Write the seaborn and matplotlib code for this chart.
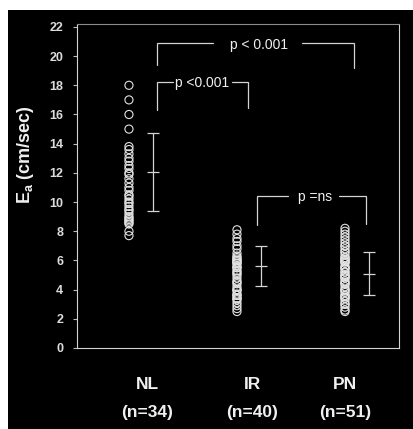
import matplotlib
matplotlib.use("Agg")
import matplotlib.pyplot as plt
from matplotlib.patches import Rectangle
import numpy as np
import pandas as pd
import seaborn as sns

# Groups and sample sizes
categories = ["NL", "IR", "PN"]
n_labels = ["(n=34)", "(n=40)", "(n=51)"]

# Individual Ea measurements (cm/sec)
nl_values = [18.0, 17.0, 16.0, 15.0, 13.8, 13.6, 13.3, 13.0, 12.8, 12.5,
             12.3, 12.0, 11.9, 11.6, 11.3, 11.0, 10.8, 10.5, 10.4, 10.2,
             10.0, 9.9, 9.7, 9.5, 9.4, 9.2, 9.0, 8.9, 8.8, 8.7,
             8.6, 8.5, 8.0, 7.7]
ir_values = [8.1, 7.8, 7.5, 7.3, 7.0, 6.8, 6.5, 6.3, 6.1, 6.0,
             5.9, 5.8, 5.6, 5.5, 5.3, 5.1, 5.0, 4.8, 4.6, 4.4,
             4.2, 4.0, 3.9, 3.7, 3.6, 3.4, 3.3, 3.1, 2.9, 2.7,
             2.5, 6.0, 5.8, 5.5, 4.0, 3.6, 3.4, 6.2, 5.2, 4.5]
pn_values = [8.2, 8.0, 7.8, 7.6, 7.4, 7.2, 7.0, 6.8, 6.6, 6.4,
             6.2, 6.1, 6.0, 5.9, 5.8, 5.6, 5.5, 5.4, 5.2, 5.0,
             4.9, 4.8, 4.6, 4.5, 4.4, 4.2, 4.0, 3.9, 3.8, 3.6,
             3.5, 3.4, 3.2, 3.0, 2.8, 2.6, 2.5, 6.0, 6.2, 5.9,
             5.5, 5.0, 4.8, 4.4, 4.0, 3.6, 3.4, 3.0, 7.0, 6.6, 5.2]

# Group mean and standard deviation
means = [12.05, 5.62, 5.08]
sds = [2.66, 1.38, 1.47]

y_ticks = list(range(0, 23, 2))

# Comparisons: (left x, right x, top y, left foot, right foot, text, text x, gap left, gap right)
brackets = [
    (0.259, 2.083, 20.89, 19.38, 19.18, "p < 0.001", 1.208, 0.778, 1.602),
    (0.259, 1.102, 18.24, 16.30, 16.44, "p <0.001", 0.680, 0.407, 0.954),
    (1.185, 2.194, 10.43, 8.42, 8.49, "p =ns", 1.727, 1.472, 1.944),
]

sns.set_theme(style="dark")
plt.rcParams["font.family"] = ["Liberation Sans", "DejaVu Sans"]
plt.rcParams["mathtext.fontset"] = "custom"
plt.rcParams["mathtext.bf"] = "Liberation Sans:bold"
plt.rcParams["mathtext.rm"] = "Liberation Sans"

LINE = "#d4d4d4"
TEXT = "#f0f0f0"

fig = plt.figure(figsize=(4.13, 4.29), dpi=100)
fig.patch.set_facecolor("white")
fig.add_artist(Rectangle((8 / 413, 0), 1, 1 - 10 / 429, transform=fig.transFigure,
                         facecolor="black", edgecolor="none", zorder=-10))

ax = fig.add_axes([77 / 413, 81 / 429, 322 / 413, 324 / 429])
ax.set_facecolor("black")

positions = np.arange(len(categories), dtype=float)
err_offset = 0.22

df = pd.DataFrame({
    "group": np.repeat(categories, [len(nl_values), len(ir_values), len(pn_values)]),
    "ea": nl_values + ir_values + pn_values,
})
df["x"] = df["group"].map(dict(zip(categories, positions)))

sns.scatterplot(data=df, x="x", y="ea", ax=ax, marker="o", s=34,
                facecolors="none", edgecolor="#e2e2e2", linewidth=0.8,
                legend=False, zorder=3)

ax.errorbar(positions + err_offset, means, yerr=sds, fmt="_", color=LINE,
            ecolor=LINE, elinewidth=0.9, capsize=4.6, capthick=0.9,
            markersize=9.2, markeredgewidth=0.9, zorder=3)

for x0, x1, ytop, yl, yr, label, tx, g0, g1 in brackets:
    ax.plot([x0, x0, g0], [yl, ytop, ytop], color=LINE, lw=0.9, solid_joinstyle="miter")
    ax.plot([g1, x1, x1], [ytop, ytop, yr], color=LINE, lw=0.9, solid_joinstyle="miter")
    ax.text(tx, ytop, label, ha="center", va="center_baseline", fontsize=10,
            color=TEXT)

ax.set_xlim(-0.481, 2.5)
ax.set_ylim(0, 22.2)
ax.set_yticks(y_ticks)
ax.set_yticklabels([str(t) for t in y_ticks], fontweight="bold")
ax.set_xticks([])
ax.set_xlabel("")
ax.set_ylabel("")
ax.grid(False)
ax.tick_params(axis="y", left=True, direction="out", length=3, width=0.8,
               color="#bbbbbb", pad=7, labelsize=9, labelcolor="#dcdcdc")

for side, sp in ax.spines.items():
    sp.set_visible(True)
    sp.set_color(LINE if side != "top" else "#8c8c8c")
    sp.set_linewidth(0.8)

label_x = [0.17, 1.14, 2.0]
for lx, name, nl in zip(label_x, categories, n_labels):
    ax.text(lx, -0.114, name, transform=ax.get_xaxis_transform(), ha="center",
            va="center", fontsize=12.5, fontweight="bold", color=TEXT)
    ax.text(lx, -0.2, nl, transform=ax.get_xaxis_transform(), ha="center",
            va="center", fontsize=12.5, fontweight="bold", color=TEXT)

fig.text(26 / 413, 1 - 155 / 429, r"$\mathbf{E}_{\mathbf{a}}$ (cm/sec)", rotation=90,
         ha="center", va="center", fontsize=13, fontweight="bold", color=TEXT)

fig.savefig("out.png", dpi=100, facecolor=fig.get_facecolor())
